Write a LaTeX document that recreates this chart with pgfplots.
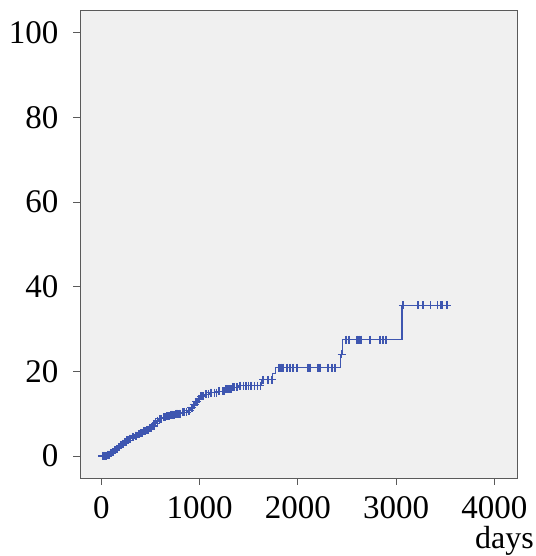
\documentclass[border=0pt]{standalone}
\usepackage{fontspec}
\setmainfont{Liberation Serif}
\usepackage{pgfplots}
\pgfplotsset{compat=1.18}
\definecolor{curveblue}{RGB}{62,86,176}
\definecolor{panelgray}{RGB}{240,240,240}
\definecolor{framegray}{RGB}{90,90,90}
\begin{document}
\begin{tikzpicture}[x=1pt,y=1pt]
\useasboundingbox (0,0) rectangle (535,556);
\begin{axis}[
  at={(80pt,78pt)}, anchor=south west,
  scale only axis, width=437pt, height=468pt,
  xmin=-217, xmax=4231,
  ymin=-5.2, ymax=105.4,
  xtick={0,1000,2000,3000,4000},
  ytick={0,20,40,60,80,100},
  axis background/.style={fill=panelgray},
  axis line style={framegray, line width=0.8pt},
  tick style={framegray, line width=0.8pt},
  tick align=outside, major tick length=7pt,
  xtick pos=bottom, ytick pos=left,
  scaled x ticks=false,
  /pgf/number format/assume math mode=true,
  /pgf/number format/1000 sep={},
  tick label style={font=\fontsize{33}{36}\selectfont},
  xticklabel style={yshift=-10pt, inner sep=1pt},
  yticklabel style={xshift=-11pt},
]
% cumulative incidence, step curve
\addplot[const plot, curveblue, line width=1.1pt] coordinates {
(0,0) (60,0.3) (90,0.6) (110,0.9) (130,1.3) (150,1.7) (170,2.1) (190,2.5)
(210,2.9) (230,3.3) (255,3.7) (280,4.1) (310,4.5) (340,4.8) (370,5.1)
(400,5.4) (430,5.8) (460,6.2) (490,6.6) (520,7.1) (545,7.7) (565,8.3)
(585,8.8) (620,9.1) (660,9.4) (700,9.7) (750,10.0) (820,10.3) (880,10.7)
(910,11.4) (935,12.1) (960,12.8) (985,13.5) (1010,14.1) (1050,14.6)
(1100,15.0) (1180,15.3) (1260,15.8) (1330,16.2) (1400,16.6) (1630,18.0)
(1745,19.5) (1770,20.9) (2430,24.0) (2455,27.5) (3060,35.6) (3550,35.6)
};
% censored cases
\addplot[only marks, curveblue, mark=+, mark size=4pt, line width=1.3pt] coordinates {
(10,0) (20,0) (30,0) (40,0) (50,0) (65,0.3) (70,0.3) (80,0.3) (95,0.6)
(100,0.6) (115,0.9) (120,0.9) (135,1.3) (140,1.3) (155,1.7) (160,1.7)
(175,2.1) (180,2.1) (195,2.5) (200,2.5) (215,2.9) (220,2.9) (235,3.3)
(240,3.3) (250,3.3) (260,3.7) (265,3.7) (275,3.7) (285,4.1) (290,4.1)
(300,4.1) (315,4.5) (320,4.5) (330,4.5) (345,4.8) (350,4.8) (360,4.8)
(375,5.1) (380,5.1) (390,5.1) (405,5.4) (410,5.4) (420,5.4) (435,5.8)
(440,5.8) (450,5.8) (465,6.2) (470,6.2) (480,6.2) (495,6.6) (500,6.6)
(510,6.6) (525,7.1) (530,7.1) (540,7.1) (550,7.7) (555,7.7) (570,8.3)
(575,8.3) (590,8.8) (600,8.8) (610,8.8) (630,9.1) (640,9.1) (650,9.1)
(670,9.4) (680,9.4) (690,9.4) (710,9.7) (720,9.7) (740,9.7) (760,10.0)
(770,10.0) (790,10.0) (800,10.0) (830,10.3) (850,10.3) (870,10.3)
(890,10.7) (900,10.7) (915,11.4) (925,11.4) (940,12.1) (950,12.1)
(965,12.8) (975,12.8) (990,13.5) (1000,13.5) (1015,14.1) (1030,14.1)
(1040,14.1) (1060,14.6) (1070,14.6) (1090,14.6) (1110,15.0) (1120,15.0)
(1150,15.0) (1170,15.0) (1190,15.3) (1200,15.3) (1230,15.3) (1250,15.3)
(1270,15.8) (1280,15.8) (1300,15.8) (1320,15.8) (1340,16.2) (1350,16.2)
(1380,16.2) (1410,16.6) (1420,16.6) (1450,16.6) (1470,16.6) (1480,16.6)
(1500,16.6) (1520,16.6) (1530,16.6) (1560,16.6) (1590,16.6) (1620,16.6)
(1646,18.0) (1697,18.0) (1737,18.0)
(1808,20.9) (1829,20.9) (1849,20.9) (1890,20.9) (1921,20.9) (1951,20.9)
(1992,20.9) (2104,20.9) (2124,20.9) (2206,20.9) (2226,20.9) (2308,20.9)
(2348,20.9) (2379,20.9)
(2445,24.0)
(2490,27.5) (2521,27.5) (2602,27.5) (2623,27.5) (2643,27.5) (2735,27.5)
(2837,27.5) (2867,27.5) (2898,27.5)
(3070,35.6) (3222,35.6) (3273,35.6) (3354,35.6) (3425,35.6) (3456,35.6)
(3476,35.6) (3517,35.6)
};
\end{axis}
\node[anchor=base east, inner sep=0pt, font=\fontsize{32}{36}\selectfont] at (534,8) {days};
\end{tikzpicture}
\end{document}
